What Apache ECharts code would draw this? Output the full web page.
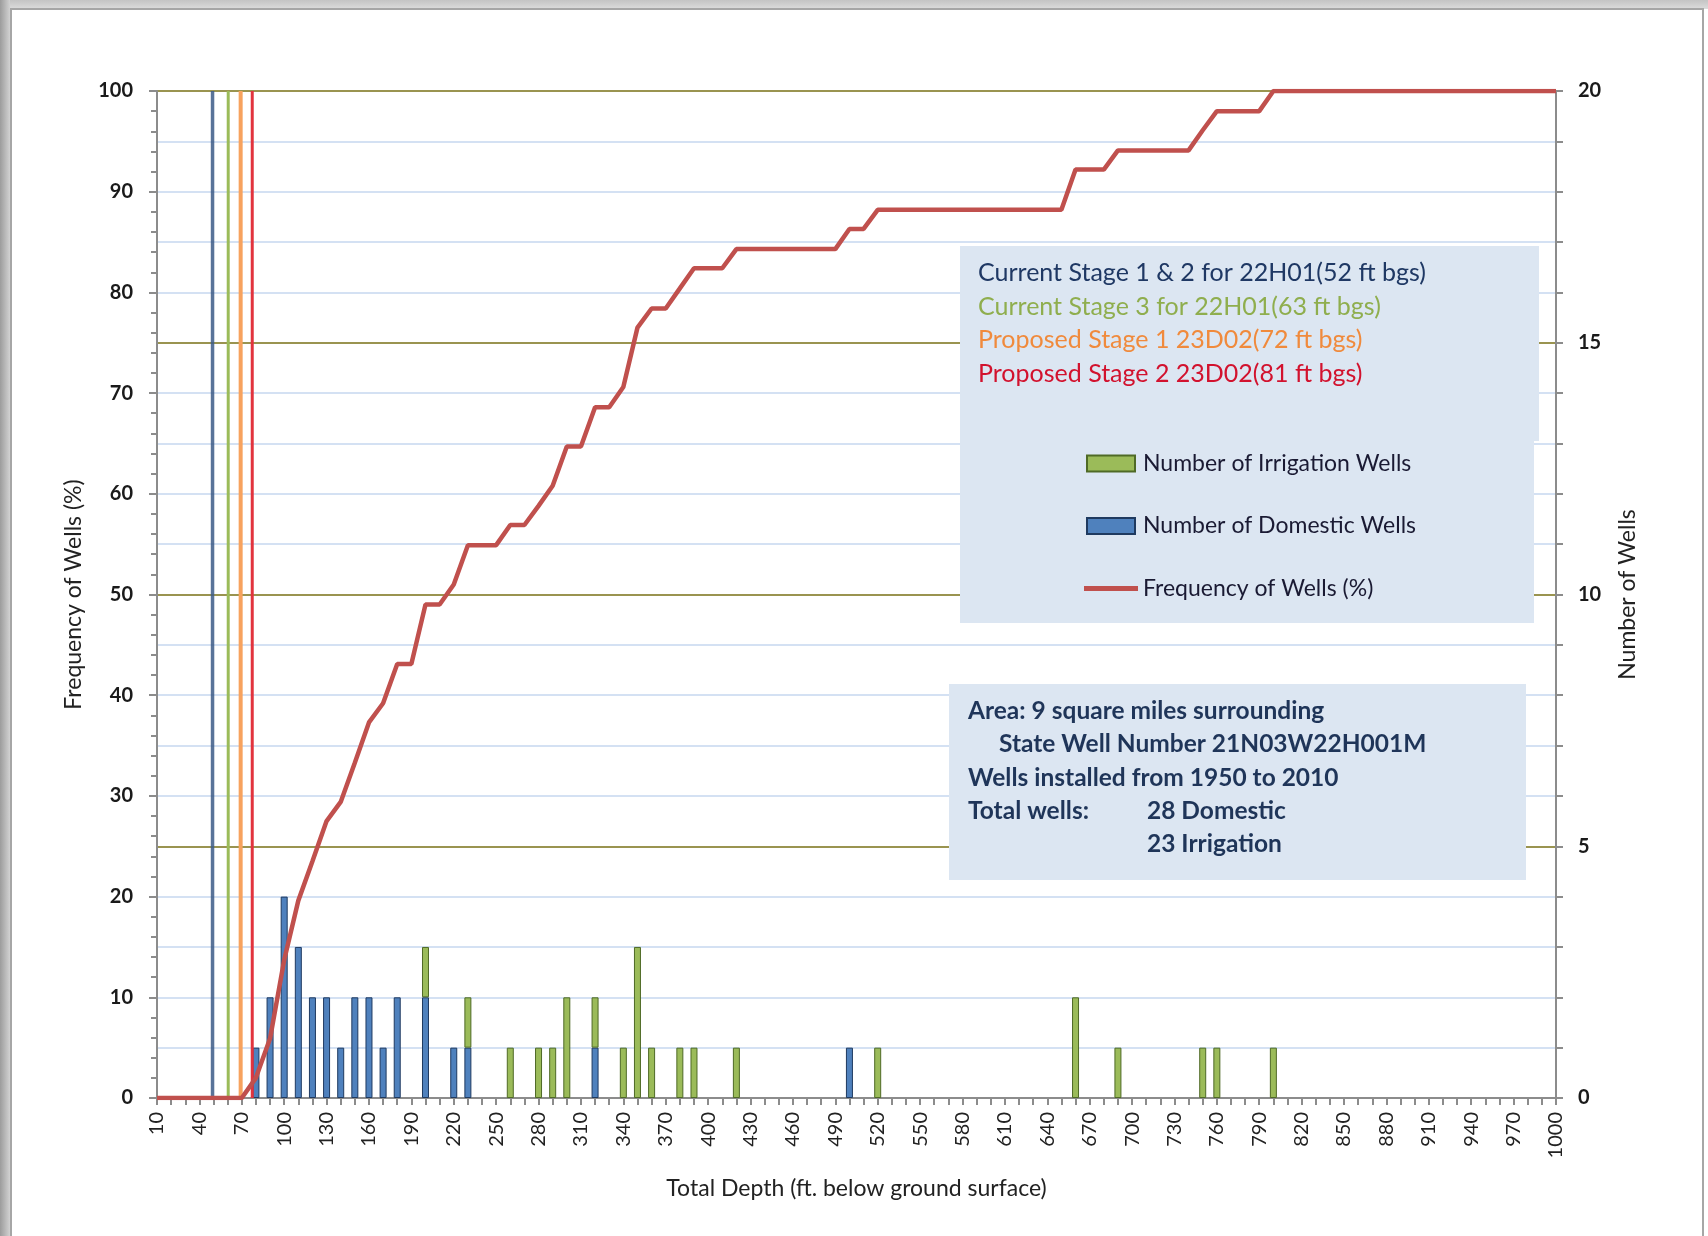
<!DOCTYPE html>
<html><head><meta charset="utf-8">
<script src="https://cdn.jsdelivr.net/npm/echarts@6/dist/echarts.min.js"></script>
<style>
html,body{margin:0;padding:0;width:1708px;height:1236px;overflow:hidden;background:#fff;}
#bgTop{position:absolute;left:0;top:0;width:1708px;height:9px;background:linear-gradient(#c4c4c4,#dcdcdc);}
#bgLeft{position:absolute;left:0;top:0;width:10px;height:1236px;background:linear-gradient(90deg,#9c9c9c,#d2d2d2);}
#frame{position:absolute;left:10px;top:8px;width:1694px;height:1240px;border:2px solid #a6a6a6;background:#fff;box-sizing:border-box;}
#chart{position:absolute;left:0;top:0;width:1708px;height:1236px;}
</style></head>
<body>
<div id="bgTop"></div><div id="bgLeft"></div><div id="frame"></div>
<div id="chart"></div>
<script>
// Category labels: total depth (ft)
const depthCategories = ['10','20','30','40','50','60','70','80','90','100',
 '110','120','130','140','150','160','170','180','190','200',
 '210','220','230','240','250','260','270','280','290','300',
 '310','320','330','340','350','360','370','380','390','400',
 '410','420','430','440','450','460','470','480','490','500',
 '510','520','530','540','550','560','570','580','590','600',
 '610','620','630','640','650','660','670','680','690','700',
 '710','720','730','740','750','760','770','780','790','800',
 '810','820','830','840','850','860','870','880','890','900',
 '910','920','930','940','950','960','970','980','990','1000'];

// Number of domestic wells per depth class
const domesticWells = [0,0,0,0,0,0,0,1,2,4,
 3,2,2,1,2,2,1,2,0,2,
 0,1,1,0,0,0,0,0,0,0,
 0,1,0,0,0,0,0,0,0,0,
 0,0,0,0,0,0,0,0,0,1,
 0,0,0,0,0,0,0,0,0,0,
 0,0,0,0,0,0,0,0,0,0,
 0,0,0,0,0,0,0,0,0,0,
 0,0,0,0,0,0,0,0,0,0,
 0,0,0,0,0,0,0,0,0,0];

// Number of irrigation wells per depth class
const irrigationWells = [0,0,0,0,0,0,0,0,0,0,
 0,0,0,0,0,0,0,0,0,1,
 0,0,1,0,0,1,0,1,1,2,
 0,1,0,1,3,1,0,1,1,0,
 0,1,0,0,0,0,0,0,0,0,
 0,1,0,0,0,0,0,0,0,0,
 0,0,0,0,0,2,0,0,1,0,
 0,0,0,0,1,1,0,0,0,1,
 0,0,0,0,0,0,0,0,0,0,
 0,0,0,0,0,0,0,0,0,0];

// Cumulative frequency of wells (%)
const frequencyPct = [0,0,0,0,0,0,0,2.0,5.9,13.7,
 19.6,23.5,27.5,29.4,33.3,37.3,39.2,43.1,43.1,49.0,
 49.0,51.0,54.9,54.9,54.9,56.9,56.9,58.8,60.8,64.7,
 64.7,68.6,68.6,70.6,76.5,78.4,78.4,80.4,82.4,82.4,
 82.4,84.3,84.3,84.3,84.3,84.3,84.3,84.3,84.3,86.3,
 86.3,88.2,88.2,88.2,88.2,88.2,88.2,88.2,88.2,88.2,
 88.2,88.2,88.2,88.2,88.2,92.2,92.2,92.2,94.1,94.1,
 94.1,94.1,94.1,94.1,96.1,98.0,98.0,98.0,98.0,100,
 100,100,100,100,100,100,100,100,100,100,
 100,100,100,100,100,100,100,100,100,100];

// Stage depth marker lines (ft, as positioned in the picture)
const stageNames = ['Current Stage 1 & 2 for 22H01(52 ft bgs)','Current Stage 3 for 22H01(63 ft bgs)','Proposed Stage 1 23D02(72 ft bgs)','Proposed Stage 2 23D02(81 ft bgs)'];
const stageLineDepths = [49.3, 60.4, 69.2, 77.4];
const stageColors = ['rgba(60,90,135,0.85)','#9bbb59','#f7a25e','#e2343e'];
const stageTextColors = ['#1f3864','#8fae4e','#f08a3c','#d2122e'];
const stageWidths = [3.5,3,4,3];

const areaLines = [
 ['Area: 9 square miles surrounding', 968, 711],
 ['State Well Number 21N03W22H001M', 999, 744],
 ['Wells installed from 1950 to 2010', 968, 778],
 ['Total wells:', 968, 811],
 ['28 Domestic', 1147, 811],
 ['23 Irrigation', 1147, 844]
];

const FONT = 'Lato, "Open Sans", sans-serif';
const chart = echarts.init(document.getElementById('chart'));

const series = [
 {name:'Number of Domestic Wells', type:'bar', stack:'wells', yAxisIndex:1, barWidth:7,
  data: domesticWells.map(v => v || null),
  itemStyle:{color:'#4f81bd', borderColor:'#1f3a60', borderWidth:1}},
 {name:'Number of Irrigation Wells', type:'bar', stack:'wells', yAxisIndex:1, barWidth:7,
  data: irrigationWells.map(v => v || null),
  itemStyle:{color:'#9bbb59', borderColor:'#4f6a26', borderWidth:1}},
 {name:'Frequency of Wells (%)', type:'line', yAxisIndex:0, data: frequencyPct, symbol:'none',
  lineStyle:{color:'#c0504d', width:4.5}, itemStyle:{color:'#c0504d'}, z:6}
];
stageLineDepths.forEach((d, i) => {
 series.push({name:stageNames[i], type:'line', xAxisIndex:1, yAxisIndex:0, symbol:'none', silent:true, z:5,
  data:[[d,0],[d,100]], lineStyle:{color:stageColors[i], width:stageWidths[i]}});
});

const graphic = [
 {type:'rect', z:100, shape:{x:960, y:246, width:579, height:195}, style:{fill:'#dce6f2'}},
 {type:'rect', z:100, shape:{x:960, y:246, width:574, height:377}, style:{fill:'#dce6f2'}},
 {type:'rect', z:100, shape:{x:949, y:684, width:577, height:196}, style:{fill:'#dce6f2'}}
];
stageNames.forEach((t, i) => {
 graphic.push({type:'text', z:101, style:{text:t, x:978, y:273 + i*33.5, fill:stageTextColors[i],
  fontSize:25, fontFamily:FONT, verticalAlign:'middle'}});
});
areaLines.forEach(([t, x, y]) => {
 graphic.push({type:'text', z:101, style:{text:t, x:x, y:y, fill:'#1f3559',
  fontSize:24.5, fontWeight:'bold', fontFamily:FONT, verticalAlign:'middle'}});
});

chart.setOption({
 animation:false,
 backgroundColor:'transparent',
 textStyle:{fontFamily:FONT},
 grid:{left:157, right:152, top:91, bottom:138},
 legend:{orient:'vertical', left:1079, top:447, itemWidth:54, itemHeight:16, itemGap:39.5, z:102,
  textStyle:{fontSize:23, color:'#1a1a33', fontFamily:FONT},
  data:[{name:'Number of Irrigation Wells', icon:'path://M4,0 h48 v16 h-48 z'},
        {name:'Number of Domestic Wells', icon:'path://M4,0 h48 v16 h-48 z'},
        {name:'Frequency of Wells (%)', icon:'path://M0,0 h54 v5 h-54 z'}]},
 xAxis:[
  {type:'category', data:depthCategories, boundaryGap:false,
   axisLine:{lineStyle:{color:'#8c8c8c', width:2}},
   axisTick:{show:true, interval:0, length:7, lineStyle:{color:'#8c8c8c', width:2}},
   axisLabel:{interval:2, rotate:90, fontSize:20, color:'#222', margin:14, fontFamily:FONT},
   splitLine:{show:false},
   name:'Total Depth (ft. below ground surface)', nameLocation:'middle', nameGap:79,
   nameTextStyle:{fontSize:23, color:'#222', fontFamily:FONT}},
  {type:'value', min:10, max:1000, show:false}
 ],
 yAxis:[
  {type:'value', min:0, max:100, interval:10, position:'left',
   axisLine:{show:true, lineStyle:{color:'#8c8c8c', width:2}},
   axisTick:{show:true, length:8, lineStyle:{color:'#8c8c8c', width:2}},
   minorTick:{show:true, splitNumber:5, length:6, lineStyle:{color:'#8c8c8c', width:2}},
   splitLine:{show:false},
   axisLabel:{fontSize:20, fontWeight:'bold', color:'#1a1a1a', margin:24, fontFamily:FONT},
   name:'Frequency of Wells (%)', nameLocation:'middle', nameGap:72,
   nameTextStyle:{fontSize:23, color:'#222', fontFamily:FONT}},
  {type:'value', min:0, max:20, interval:5, position:'right',
   axisLine:{show:true, lineStyle:{color:'#8c8c8c', width:2}},
   axisTick:{show:true, length:7, lineStyle:{color:'#8c8c8c', width:2}},
   minorTick:{show:true, splitNumber:5, length:7, lineStyle:{color:'#8c8c8c', width:2}},
   splitLine:{show:true, lineStyle:{color:'#9a9450', width:2}},
   minorSplitLine:{show:true, lineStyle:{color:'#c6d8f0', width:1.5}},
   axisLabel:{fontSize:20, fontWeight:'bold', color:'#1a1a1a', margin:22, fontFamily:FONT},
   name:'Number of Wells', nameLocation:'middle', nameGap:60,
   nameTextStyle:{fontSize:23, color:'#222', fontFamily:FONT}}
 ],
 graphic: graphic,
 series: series
});
</script>
</body></html>
